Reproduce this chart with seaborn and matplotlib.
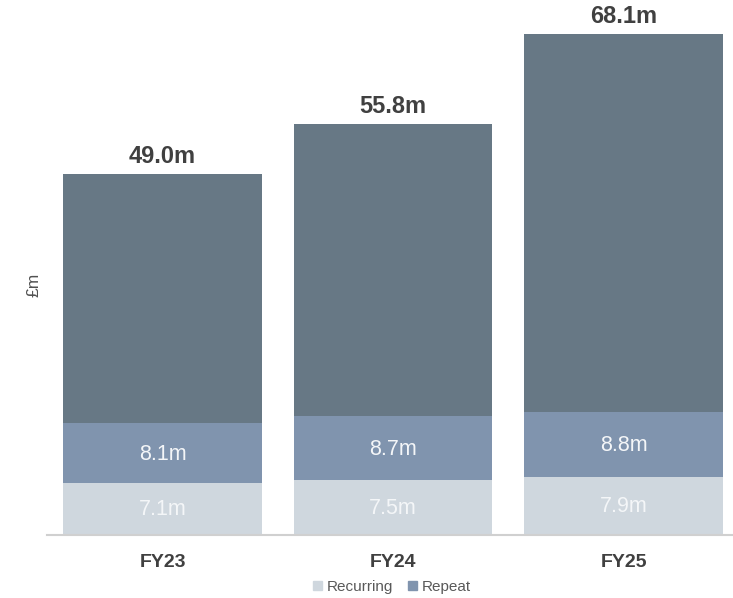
import matplotlib
matplotlib.use("Agg")
import matplotlib.pyplot as plt
import seaborn as sns
import pandas as pd
import numpy as np
from matplotlib.patches import Patch

years = ["FY23", "FY24", "FY25"]
recurring = [7.1, 7.5, 7.9]
repeat = [8.1, 8.7, 8.8]
totals = [49.0, 55.8, 68.1]

c_recurring = "#CFD7DE"
c_repeat = "#8094AE"
c_other = "#677885"

sns.set_theme(style="white")
plt.rcParams["font.family"] = ["Liberation Sans", "DejaVu Sans"]

df = pd.DataFrame({
    "year": years,
    "recurring": recurring,
    "repeat": repeat,
    "total": totals,
})
df["rec_rep"] = df["recurring"] + df["repeat"]

fig = plt.figure(figsize=(7.33, 5.98), dpi=100)
ax = fig.add_axes([47.25 / 733, 63 / 598, 1 - 47.25 / 733, 535 / 598])

w = 0.863
sns.barplot(data=df, x="year", y="total", color=c_other, width=w, ax=ax,
            saturation=1, edgecolor="none", linewidth=0)
sns.barplot(data=df, x="year", y="rec_rep", color=c_repeat, width=w, ax=ax,
            saturation=1, edgecolor="none", linewidth=0)
sns.barplot(data=df, x="year", y="recurring", color=c_recurring, width=w, ax=ax,
            saturation=1, edgecolor="none", linewidth=0)

ax.set_xlim(-0.5, 2.475)
ax.set_ylim(0, 72.7)

for i, row in df.iterrows():
    ax.text(i, row["recurring"] / 2 - 0.1, f"{row['recurring']:.1f}m", ha="center",
            va="center", color="#F4F6F8", fontsize=15.5)
    ax.text(i, row["recurring"] + row["repeat"] / 2 - 0.2, f"{row['repeat']:.1f}m",
            ha="center", va="center", color="#F4F6F8", fontsize=15.5)
    ax.annotate(f"{row['total']:.1f}m", (i, row["total"]), xytext=(0, 4.5),
                textcoords="offset points", ha="center", va="bottom",
                fontsize=17, fontweight="bold", color="#404040")

for s in ["top", "right", "left"]:
    ax.spines[s].set_visible(False)
ax.spines["bottom"].set_color("#D0D0D0")
ax.spines["bottom"].set_linewidth(1.5)
ax.set_yticks([])
ax.set_xlabel("")
ax.set_ylabel("")
ax.tick_params(axis="x", length=0, pad=14)
for lbl in ax.get_xticklabels():
    lbl.set_fontsize(14)
    lbl.set_fontweight("bold")
    lbl.set_color("#404040")

fig.text(34 / 733, 1 - 285 / 598, "£m", rotation=90, ha="center", va="center",
         fontsize=12.5, color="#505050")

handles = [Patch(color=c_recurring, label="Recurring"),
           Patch(color=c_repeat, label="Repeat")]
fig.legend(handles=handles, loc="center", bbox_to_anchor=(392 / 733, 1 - 587 / 598),
           ncol=2, frameon=False, fontsize=11, handlelength=0.6, handleheight=0.6,
           handletextpad=0.3, columnspacing=1.0, labelcolor="#595959")

fig.savefig("out.png", dpi=100)
